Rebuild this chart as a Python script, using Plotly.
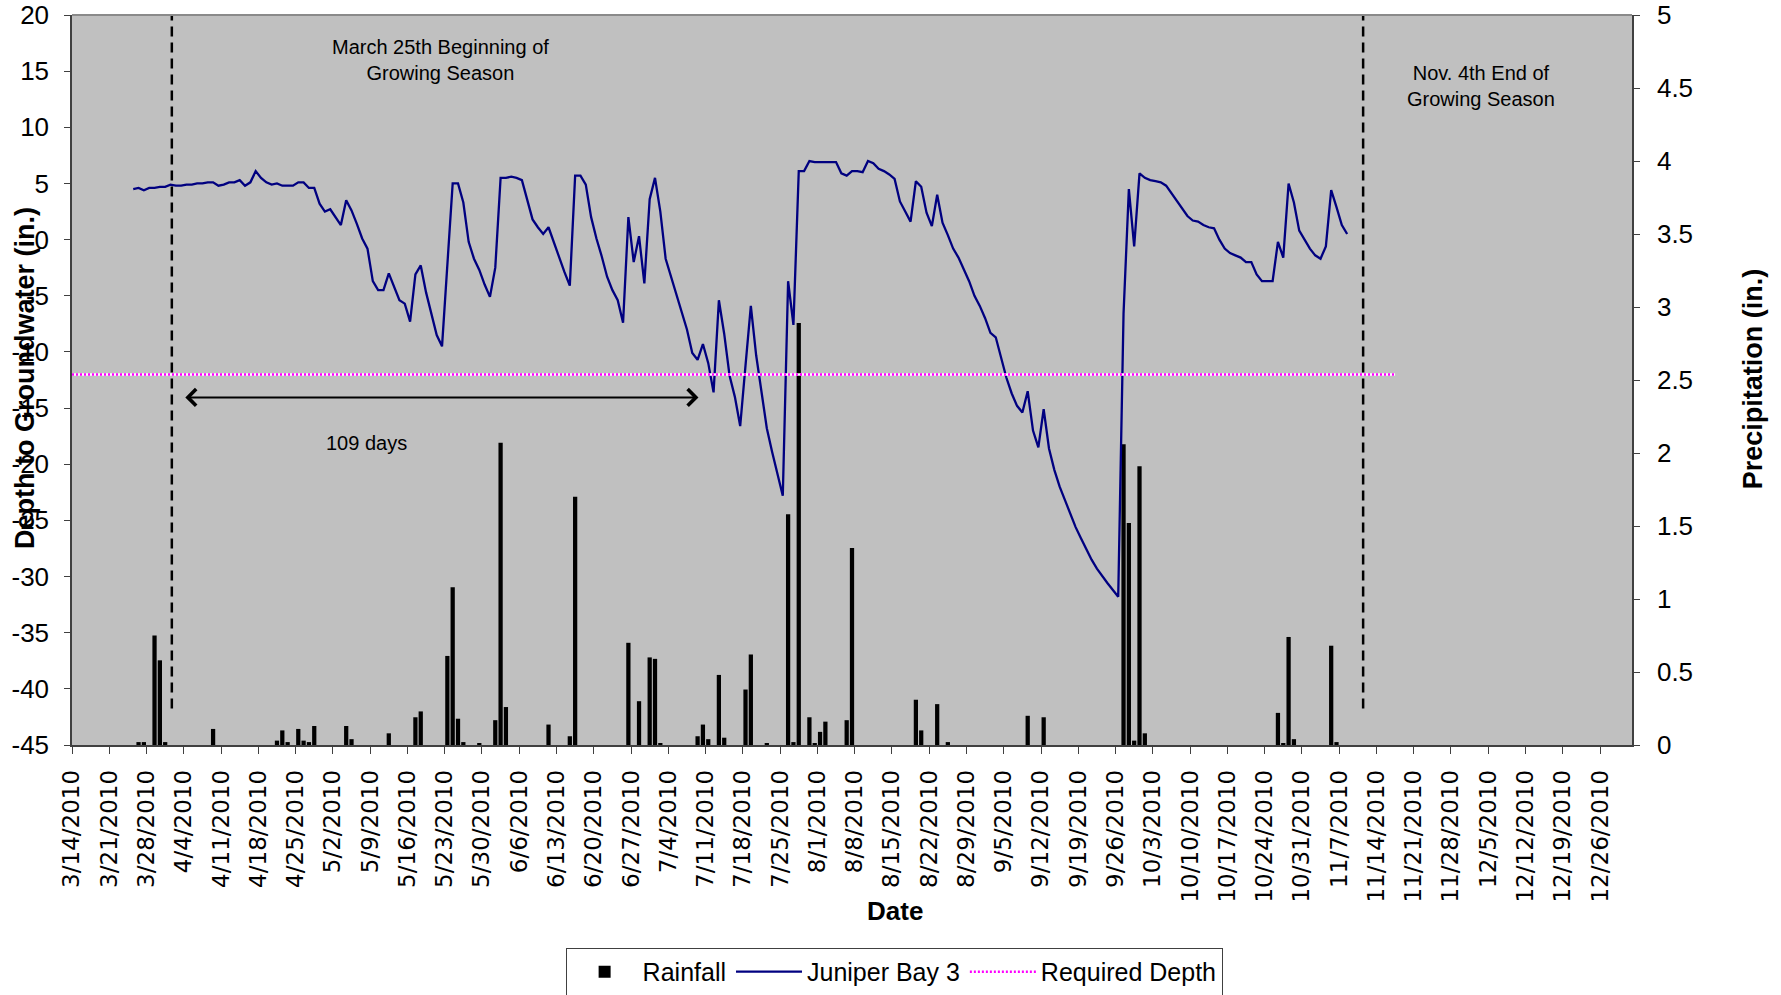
import pandas as pd
import plotly.graph_objects as go

# Juniper Bay 3 daily depth to groundwater (in.), one value per day starting DEPTH_START
DEPTH_START = "2010-03-25"
depth_mar = [4.5, 4.6, 4.4, 4.6, 4.6, 4.7, 4.7]
depth_apr = [4.9, 4.8, 4.8, 4.9, 4.9, 5.0, 5.0, 5.1, 5.1, 4.8,
             4.9, 5.1, 5.1, 5.3, 4.8, 5.1, 6.1, 5.5, 5.1, 4.9,
             5.0, 4.8, 4.8, 4.8, 5.1, 5.1, 4.6, 4.6, 3.2, 2.5]
depth_may = [2.7, 2.0, 1.3, 3.5, 2.6, 1.4, 0.1, -0.8, -3.7, -4.5,
             -4.5, -3.0, -4.2, -5.4, -5.7, -7.3, -3.1, -2.3, -4.7, -6.6,
             -8.5, -9.5, -2.0, 5.0, 5.0, 3.3, -0.2, -1.7, -2.7, -4.0,
             -5.1]
depth_jun = [-2.5, 5.5, 5.5, 5.6, 5.5, 5.3, 3.6, 1.8, 1.1, 0.5,
             1.1, -0.3, -1.5, -2.9, -4.1, 5.7, 5.7, 4.9, 2.0, 0.1,
             -1.5, -3.3, -4.5, -5.4, -7.4, 2.0, -2.0, 0.3, -3.9, 3.6]
depth_jul = [5.5, 2.5, -1.7, -3.3, -4.9, -6.4, -8.0, -10.1, -10.7, -9.3,
             -11.0, -13.6, -5.4, -8.4, -12.1, -14.0, -16.6, -11.2, -5.9, -10.3,
             -13.5, -16.8, -18.9, -20.9, -22.8, -3.7, -7.6, 6.1, 6.1, 7.0,
             6.9]
depth_aug = [6.9, 6.9, 6.9, 6.9, 5.9, 5.7, 6.1, 6.1, 6.0, 7.0,
             6.8, 6.3, 6.1, 5.8, 5.4, 3.4, 2.5, 1.6, 5.2, 4.7,
             2.4, 1.2, 4.0, 1.5, 0.4, -0.8, -1.6, -2.6, -3.7, -5.0,
             -5.9]
depth_sep = [-7.0, -8.3, -8.7, -10.5, -12.3, -13.7, -14.8, -15.4, -13.5, -17.0,
             -18.5, -15.1, -18.6, -20.5, -22.0, -23.2, -24.4, -25.6, -26.6, -27.6,
             -28.5, -29.3, -30.0, -30.6, -31.2, -31.8, -6.6, 4.5, -0.6, 5.9]
depth_oct = [5.5, 5.3, 5.2, 5.1, 4.8, 4.1, 3.4, 2.7, 2.1, 1.7,
             1.6, 1.3, 1.1, 1.0, 0.0, -0.8, -1.2, -1.4, -1.6, -2.0,
             -2.0, -3.1, -3.7, -3.7, -3.7, -0.2, -1.6, 5.0, 3.3, 0.8,
             0.0]
depth_nov = [-0.8, -1.4, -1.7, -0.6, 4.4, 2.9, 1.3, 0.5]

# daily rainfall (in.)
rain_dates = ["2010-03-26", "2010-03-27", "2010-03-29", "2010-03-30", "2010-03-31",
              "2010-04-09", "2010-04-21", "2010-04-22", "2010-04-23", "2010-04-25",
              "2010-04-26", "2010-04-27", "2010-04-28", "2010-05-04", "2010-05-05",
              "2010-05-12", "2010-05-17", "2010-05-18", "2010-05-23", "2010-05-24",
              "2010-05-25", "2010-05-26", "2010-05-29", "2010-06-01", "2010-06-02",
              "2010-06-03", "2010-06-11", "2010-06-15", "2010-06-16", "2010-06-26",
              "2010-06-28", "2010-06-30", "2010-07-01", "2010-07-02", "2010-07-09",
              "2010-07-10", "2010-07-11", "2010-07-13", "2010-07-14", "2010-07-18",
              "2010-07-19", "2010-07-22", "2010-07-26", "2010-07-27", "2010-07-28",
              "2010-07-30", "2010-07-31", "2010-08-01", "2010-08-02", "2010-08-06",
              "2010-08-07", "2010-08-19", "2010-08-20", "2010-08-23", "2010-08-25",
              "2010-09-09", "2010-09-12", "2010-09-27", "2010-09-28", "2010-09-29",
              "2010-09-30", "2010-10-01", "2010-10-26", "2010-10-27", "2010-10-28",
              "2010-10-29", "2010-11-05", "2010-11-06"]
rain_in = [0.02, 0.02, 0.75, 0.58, 0.02,
           0.11, 0.03, 0.10, 0.02, 0.11,
           0.03, 0.02, 0.13, 0.13, 0.04,
           0.08, 0.19, 0.23, 0.61, 1.08,
           0.18, 0.02, 0.01, 0.17, 2.07,
           0.26, 0.14, 0.06, 1.70, 0.70,
           0.30, 0.60, 0.59, 0.01, 0.06,
           0.14, 0.04, 0.48, 0.05, 0.38,
           0.62, 0.01, 1.58, 0.02, 2.89,
           0.19, 0.01, 0.09, 0.16, 0.17,
           1.35, 0.31, 0.10, 0.28, 0.02,
           0.20, 0.19, 2.06, 1.52, 0.03,
           1.91, 0.08, 0.22, 0.01, 0.74,
           0.04, 0.68, 0.02]

# required depth line
REQ_DEPTH = -12
req_dates = ["2010-03-14", "2010-11-17 12:00"]

# growing season markers and the 109 day span
season_start = "2010-04-01 18:00"
season_end = "2010-11-11 12:00"
span_start = "2010-04-04"
span_end = "2010-07-09 16:00"
span_depth = -14.05

X_START = "2010-03-14"
X_END = "2011-01-01"
left_ticks = list(range(-45, 21, 5))

depth = depth_mar + depth_apr + depth_may + depth_jun + depth_jul + depth_aug + depth_sep + depth_oct + depth_nov
half_day = pd.Timedelta(hours=12)
depth_dates = pd.date_range(DEPTH_START, periods=len(depth), freq="D") + half_day
rain_x = pd.to_datetime(rain_dates) + half_day

FONT = "Liberation Sans, Arial, sans-serif"

fig = go.Figure()
fig.add_trace(go.Bar(x=rain_x, y=rain_in, name="Rainfall", yaxis="y",
                     width=0.8 * 86400000,
                     marker=dict(color="black", line=dict(width=0))))
fig.add_trace(go.Scatter(x=depth_dates, y=depth, name="Juniper Bay 3", yaxis="y2",
                         mode="lines", line=dict(color="#000080", width=2.3)))
fig.add_trace(go.Scatter(x=req_dates, y=[REQ_DEPTH] * len(req_dates), yaxis="y2",
                         mode="lines", line=dict(color="white", width=2.5),
                         showlegend=False, hoverinfo="skip"))
fig.add_trace(go.Scatter(x=req_dates, y=[REQ_DEPTH] * len(req_dates), name="Required Depth",
                         yaxis="y2", mode="lines",
                         line=dict(color="#FF00FF", width=2.5, dash="2px,2px")))

axis_col = "#404040"
fig.update_layout(
    width=1781, height=995,
    margin=dict(l=72, r=149, t=15, b=250, autoexpand=False),
    paper_bgcolor="white", plot_bgcolor="#C0C0C0",
    font=dict(family=FONT, size=24, color="black"),
    showlegend=True,
    legend=dict(orientation="h", x=0.527, xanchor="center", y=-0.278, yanchor="top",
                bgcolor="white", bordercolor=axis_col, borderwidth=1,
                font=dict(family=FONT, size=25), itemwidth=66),
    xaxis=dict(type="date", range=[X_START, X_END], tick0=X_START, dtick=7 * 86400000,
               tickformat="%-m/%-d/%Y", tickangle=-90, ticks="outside", ticklen=7,
               tickcolor=axis_col, showline=True, linecolor=axis_col, linewidth=1.5,
               showgrid=False, zeroline=False, ticklabelstandoff=7,
               tickfont=dict(family="DejaVu Sans", size=23)),
    yaxis=dict(side="right", range=[0, 5], dtick=0.5, ticks="outside", ticklen=6,
               tickcolor=axis_col, showline=True, linecolor=axis_col, linewidth=1.5,
               showgrid=False, zeroline=False, ticklabelstandoff=12,
               tickfont=dict(size=26)),
    yaxis2=dict(overlaying="y", side="left", range=[-45, 20], tickvals=left_ticks,
                ticktext=[str(v) for v in left_ticks], ticks="outside", ticklen=6,
                tickcolor=axis_col, showline=True, linecolor=axis_col, linewidth=1.5,
                showgrid=False, zeroline=False, ticklabelstandoff=10,
                tickfont=dict(size=26)),
)

# growing season dashed lines and top border
for d in [season_start, season_end]:
    fig.add_shape(type="line", xref="x", yref="y", x0=d, x1=d, y0=0.25, y1=5.03,
                  line=dict(color="black", width=2.5, dash="10px,6px"))
fig.add_shape(type="line", xref="paper", yref="paper", x0=0, x1=1, y0=1, y1=1,
              line=dict(color="#8a8a8a", width=2))

# double headed arrow for the 109 days
fig.add_annotation(x=span_end, y=span_depth, ax=span_start, ay=span_depth,
                   xref="x", yref="y2", axref="x", ayref="y2", text="",
                   showarrow=True, arrowside="end+start", arrowhead=4, startarrowhead=4,
                   arrowsize=1.6, startarrowsize=1.6, arrowwidth=2, arrowcolor="black")

notes = [
    (0.2365, 0.939, "March 25th Beginning of<br>Growing Season"),
    (0.903, 0.9034, "Nov. 4th End of<br>Growing Season"),
    (0.189, 0.4137, "109 days"),
]
for x, y, t in notes:
    fig.add_annotation(x=x, y=y, xref="paper", yref="paper", showarrow=False, text=t,
                       xanchor="center", yanchor="middle", align="center",
                       font=dict(size=20))

# axis titles
titles = [
    (-0.030, 0.503, "<b>Depth to Groundwater (in.)</b>", -90),
    (1.0776, 0.501, "<b>Precipitation (in.)</b>", -90),
    (0.5276, -0.2274, "<b>Date</b>", 0),
]
for x, y, t, ang in titles:
    fig.add_annotation(x=x, y=y, xref="paper", yref="paper", showarrow=False, text=t,
                       textangle=ang, xanchor="center", yanchor="middle",
                       font=dict(size=27 if ang else 26))

fig.write_html("out.html", config={"displayModeBar": False},
               post_script="document.body.style.margin='0';document.body.style.overflow='hidden';")
